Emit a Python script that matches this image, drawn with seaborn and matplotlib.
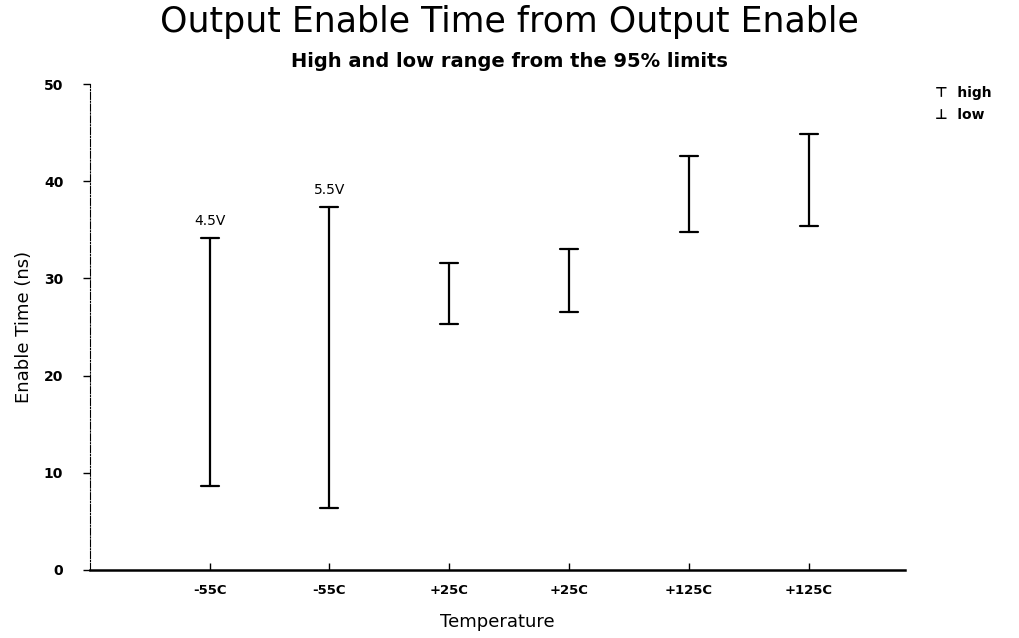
import pandas as pd
import matplotlib.pyplot as plt
import seaborn as sns

# category keys (temperature labels repeat, so use an index)
positions = ['p1', 'p2', 'p3', 'p4', 'p5', 'p6']
temp_labels = ['-55C', '-55C', '+25C', '+25C', '+125C', '+125C']
low = [8.6, 6.4, 25.3, 26.5, 34.8, 35.4]
high = [34.2, 37.4, 31.6, 33.0, 42.6, 44.9]
volt_labels = ['4.5V', '5.5V', '', '', '', '']

df = pd.DataFrame({
    'pos': positions * 2,
    'time': low + high,
})

sns.set_style('white')
plt.rcParams['font.family'] = ['DejaVu Sans']
plt.rcParams['text.color'] = 'black'
plt.rcParams['axes.labelcolor'] = 'black'
plt.rcParams['xtick.color'] = 'black'
plt.rcParams['ytick.color'] = 'black'

fig = plt.figure(figsize=(10.19, 6.38), dpi=100)
ax = fig.add_axes([0.088, 0.107, 0.80, 0.761])

sns.pointplot(data=df, x='pos', y='time', order=positions, errorbar=('pi', 100),
              markers='', linestyles='none', color='black', capsize=0.15,
              err_kws={'linewidth': 1.6}, ax=ax)

# voltage notes above the first two ranges
for i, txt in enumerate(volt_labels):
    if txt:
        ax.text(i, high[i] + 1.0, txt, ha='center', va='bottom', fontsize=10)

ax.set_xlim(-1.0, 5.8)
ax.set_ylim(0, 50)
ax.set_yticks([0, 10, 20, 30, 40, 50])
ax.set_xticks(range(len(positions)))
ax.set_xticklabels(temp_labels, fontsize=9.5, fontweight='bold')
ax.tick_params(axis='y', labelsize=10, direction='out', length=5, width=1, left=True, pad=14)
ax.tick_params(axis='x', direction='in', length=5, width=1, bottom=True, pad=10)
for lbl in ax.get_yticklabels():
    lbl.set_fontweight('bold')

ax.set_xlabel('Temperature', fontsize=13, labelpad=12)
ax.set_ylabel('Enable Time (ns)', fontsize=13, labelpad=8)

for s in ['top', 'right']:
    ax.spines[s].set_visible(False)
ax.spines['left'].set_linestyle('-.')
ax.spines['left'].set_linewidth(0.8)
ax.spines['left'].set_color('black')
ax.spines['bottom'].set_linewidth(1.8)
ax.spines['bottom'].set_color('black')

fig.text(0.5, 0.965, 'Output Enable Time from Output Enable', ha='center', va='center',
         fontsize=25)
fig.text(0.5, 0.903, 'High and low range from the 95% limits', ha='center', va='center',
         fontsize=14, fontweight='bold')

# legend
fig.text(0.918, 0.855, '\u22a4  high', ha='left', va='center', fontsize=10, fontweight='bold')
fig.text(0.918, 0.820, '\u22a5  low', ha='left', va='center', fontsize=10, fontweight='bold')

fig.savefig('out.png', dpi=100)
